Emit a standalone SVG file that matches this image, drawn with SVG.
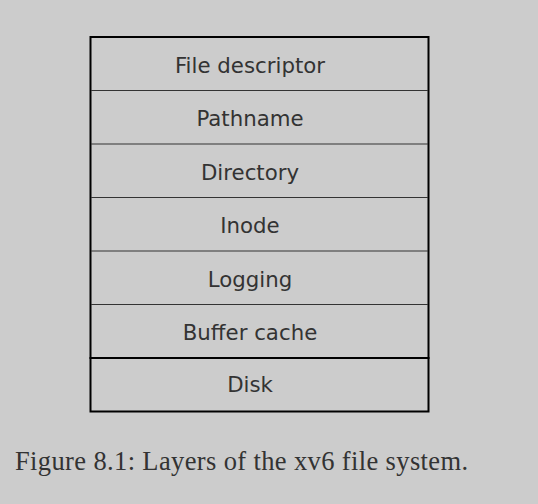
<svg xmlns="http://www.w3.org/2000/svg" width="538" height="504" viewBox="0 0 538 504">
<style>
.box{fill:none;stroke:#000;stroke-width:2}
.sep{stroke:#333;stroke-width:1.2}
.lbl{font-family:"DejaVu Sans",sans-serif;font-size:21.3px;fill:#333;text-anchor:middle}
.cap{font-family:"Liberation Serif",serif;font-size:26.5px;letter-spacing:0.37px;fill:#333}
</style>
<rect x="0" y="0" width="538" height="504" fill="#cccccc"/>
<g id="stack">
<rect class="box" x="90.5" y="37" width="338" height="321"/>
</g>
<g id="connectors">
<line class="sep" x1="91" y1="90.5" x2="428" y2="90.5"/>
<line class="sep" x1="91" y1="144" x2="428" y2="144"/>
<line class="sep" x1="91" y1="197.5" x2="428" y2="197.5"/>
<line class="sep" x1="91" y1="251" x2="428" y2="251"/>
<line class="sep" x1="91" y1="304.5" x2="428" y2="304.5"/>
</g>
<g id="file-descriptor"><text class="lbl" x="250" y="72.7">File descriptor</text></g>
<g id="pathname"><text class="lbl" x="250" y="126">Pathname</text></g>
<g id="directory"><text class="lbl" x="250" y="179.5">Directory</text></g>
<g id="inode"><text class="lbl" x="250" y="233">Inode</text></g>
<g id="logging"><text class="lbl" x="250" y="286.5">Logging</text></g>
<g id="buffer-cache"><text class="lbl" x="250" y="340">Buffer cache</text></g>
<g id="disk">
<rect class="box" x="90.5" y="358" width="338" height="53.5"/>
<text class="lbl" x="250" y="392">Disk</text>
</g>
<text class="cap" x="15" y="470">Figure 8.1: Layers of the xv6 file system.</text>
</svg>
